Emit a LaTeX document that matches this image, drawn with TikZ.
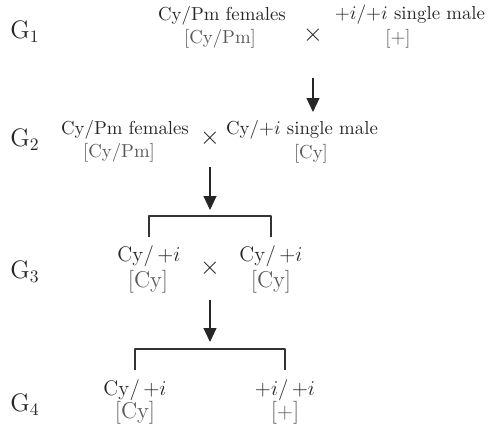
\documentclass[tikz,border=0pt]{standalone}
\usepackage{amsmath}
\usetikzlibrary{arrows.meta}
\tikzset{geno/.style={inner sep=0pt,font=\fontsize{10.7}{12}\selectfont},
  big/.style={inner sep=0pt,font=\fontsize{13}{15}\selectfont},
  pheno/.style={text=black!65},
  gen/.style={inner sep=0pt,font=\fontsize{14}{16}\selectfont},
  cross/.style={inner sep=0pt,font=\fontsize{14}{16}\selectfont},
  brk/.style={line width=0.6pt,draw=black!80}}

\begin{document}
\begin{tikzpicture}[>={Triangle[length=0.28cm,width=0.26cm]},line join=round,text=black!85]
\useasboundingbox (0,0) rectangle (9.8,-8.56);
% --- G1: Cy/Pm females x single male
\node[gen] (g1) at (0.50,-0.64) {$\mathrm{G}_1$};
\node[geno] (f1) at (4.44,-0.32) {Cy/Pm females};
\node[geno,pheno] (f1p) at (4.40,-0.78) {[Cy/Pm]};
\node[cross] (x1) at (6.26,-0.70) {$\times$};
\node[geno] (m1) at (8.20,-0.30) {$+i/{+i}$ single male};
\node[geno,pheno] (m1p) at (7.96,-0.78) {[$+$]};
% --- G2
\node[gen] (g2) at (0.50,-2.80) {$\mathrm{G}_2$};
\node[geno] (f2) at (2.50,-2.60) {Cy/Pm females};
\node[geno,pheno] (f2p) at (2.38,-3.05) {[Cy/Pm]};
\node[cross] (x2) at (4.20,-2.76) {$\times$};
\node[geno] (m2) at (6.04,-2.60) {Cy/$+i$ single male};
\node[geno,pheno] (m2p) at (6.22,-3.07) {[Cy]};
\draw[->,line width=0.6pt,draw=black!85,shorten <=0.86cm,shorten >=0.36cm] (x1.center) -- (x1 |- m2);
\coordinate (br3) at (4.20,-4.32);
\draw[->,line width=0.6pt,draw=black!85,shorten <=0.58cm,shorten >=0.12cm] (x2.center) -- (br3);
% --- G3: sibs
\node[gen] (g3) at (0.50,-5.44) {$\mathrm{G}_3$};
\node[big] (a3) at (2.98,-5.12) {$\mathrm{Cy}/\,{+}i$};
\node[big,pheno] (a3p) at (2.96,-5.64) {[Cy]};
\node[cross] (x3) at (4.20,-5.36) {$\times$};
\node[big] (b3) at (5.42,-5.12) {$\mathrm{Cy}/\,{+}i$};
\node[big,pheno] (b3p) at (5.42,-5.64) {[Cy]};
\draw[brk,shorten <=0.38cm,shorten >=0.38cm] (a3.center) |- (br3) -| (b3.center);
\coordinate (br4) at (4.20,-6.98);
\draw[->,line width=0.6pt,draw=black!85,shorten <=0.64cm,shorten >=0.14cm] (x3.center) -- (br4);
% --- G4
\node[gen] (g4) at (0.50,-8.10) {$\mathrm{G}_4$};
\node[big] (a4) at (2.70,-7.80) {$\mathrm{Cy}/\,{+}i$};
\node[big,pheno] (a4p) at (2.70,-8.26) {[Cy]};
\node[big] (b4) at (5.70,-7.80) {${+}i/\,{+}i$};
\node[big,pheno] (b4p) at (5.70,-8.26) {[$+$]};
\draw[brk,shorten <=0.40cm,shorten >=0.40cm] (a4.center) |- (br4) -| (b4.center);
\end{tikzpicture}
\end{document}
